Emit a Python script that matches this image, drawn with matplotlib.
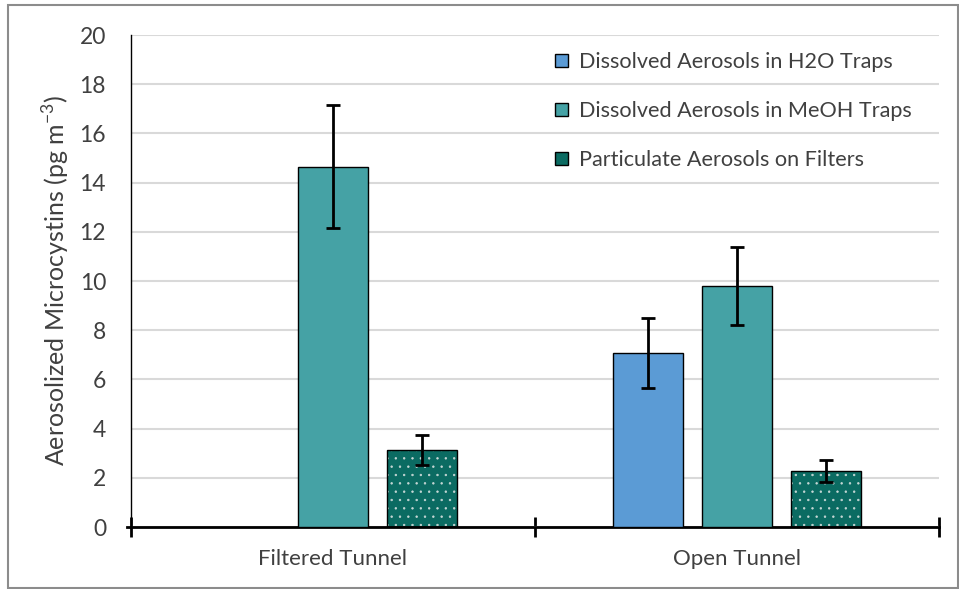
import numpy as np
import matplotlib
matplotlib.use("Agg")
import matplotlib.pyplot as plt
from matplotlib.patches import Rectangle

plt.rcParams['font.family'] = ['Lato', 'DejaVu Sans']

# data
categories = ["Filtered Tunnel", "Open Tunnel"]
series = ["Dissolved Aerosols in H2O Traps",
          "Dissolved Aerosols in MeOH Traps",
          "Particulate Aerosols on Filters"]
h2o = [0.0, 7.07]
h2o_err = [0.0, 1.43]
meoh = [14.65, 9.8]
meoh_err = [2.5, 1.6]
part = [3.12, 2.28]
part_err = [0.6, 0.45]

colors = ["#5B9BD5", "#45A2A5", "#0B6B62"]
hatches = [None, None, ".."]
offsets = [-0.22, 0.0, 0.22]
width = 0.173

fig = plt.figure(figsize=(9.59, 5.89), dpi=100)
ax = fig.add_axes([131/959, 62/589, 808/959, 492/589])

centers = np.arange(len(categories)) + 0.5
for vals, errs, c, h, off, name in zip([h2o, meoh, part], [h2o_err, meoh_err, part_err],
                                       colors, hatches, offsets, series):
    vals = np.array(vals)
    errs = np.array(errs)
    m = vals > 0
    x = centers[m] + off
    if h:
        plt.rcParams['hatch.color'] = '#c8d8d6'
        plt.rcParams['hatch.linewidth'] = 0.5
        ax.bar(x, vals[m], width, color=c, hatch=h, edgecolor='#c8d8d6', linewidth=0, zorder=2)
        ax.bar(x, vals[m], width, facecolor='none', edgecolor='black', linewidth=1.0, zorder=3)
        ax.bar([np.nan], [np.nan], width, color=c, edgecolor='black', label=name)
    else:
        ax.bar(x, vals[m], width, color=c, edgecolor='black', linewidth=1.0, zorder=3, label=name)
    ax.errorbar(x, vals[m], yerr=errs[m], fmt='none', ecolor='black', elinewidth=2,
                capsize=5, capthick=2, zorder=4)

ax.set_xlim(0, 2)
ax.set_ylim(0, 20)
ax.set_yticks(np.arange(0, 21, 2))
ax.yaxis.grid(True, color='#d9d9d9', linewidth=1.5, zorder=0)
ax.set_axisbelow(True)

ax.set_xticks([0, 1, 2])
ax.set_xticklabels([])
ax.set_xticks(centers, minor=True)
ax.set_xticklabels(categories, minor=True, fontsize=16, color='#404040')
ax.tick_params(axis='x', which='major', direction='inout', length=14, width=2, color='black')
ax.tick_params(axis='x', which='minor', length=0, pad=16)
ax.tick_params(axis='y', length=0, pad=18, labelsize=16.5, labelcolor='#404040')

for s in ['top', 'right']:
    ax.spines[s].set_visible(False)
ax.spines['bottom'].set_linewidth(2)
ax.spines['left'].set_linewidth(1)
ax.plot([-0.01, 0], [0, 0], color='black', lw=2, clip_on=False)

ax.set_ylabel("Aerosolized Microcystins (pg m$^{\\mathregular{-3}}$)", fontsize=18,
              color='#404040', labelpad=5)

leg = ax.legend(loc='upper right', frameon=False, fontsize=15.6, labelspacing=1.34,
                handlelength=0.6, handleheight=0.6, handletextpad=0.5,
                bbox_to_anchor=(0.99, 1.005))
for t in leg.get_texts():
    t.set_color('#404040')

fig.patches.append(Rectangle((8/959, 1/589), 950/959, 583/589, transform=fig.transFigure,
                             fill=False, edgecolor='#8c8c8c', linewidth=1.5))

fig.savefig("out.png", dpi=100)
